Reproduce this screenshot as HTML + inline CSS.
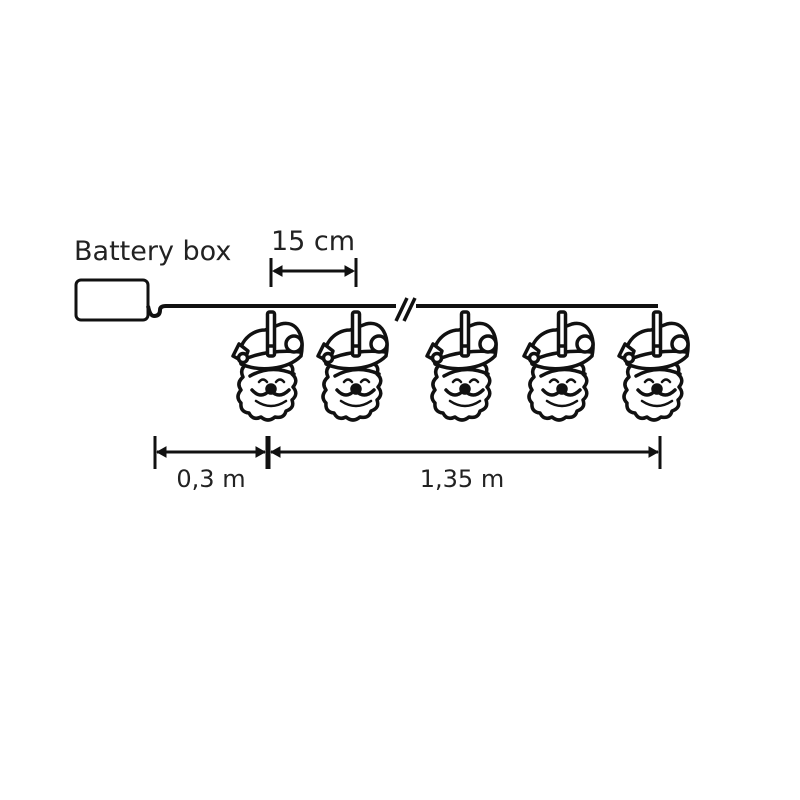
<!DOCTYPE html>
<html><head><style>
html,body{margin:0;padding:0;background:#fff;}
svg{display:block;}
text{font-family:"DejaVu Sans","Liberation Sans",sans-serif;fill:#222;}
</style></head><body>
<svg width="800" height="800" viewBox="0 0 800 800" xmlns="http://www.w3.org/2000/svg">
<defs>
<g id="santa" fill="#fff" stroke="#111" stroke-width="3.5" stroke-linejoin="round" stroke-linecap="round">
  <path d="M-24 58 q-8 5 -4 13 q-7 6 -2 13 q-6 7 0 13 q-1 9 8 10 q4 8 12 4 q7 6 14 0 q9 2 11 -6 q9 -3 6 -11 q7 -6 1 -13 q6 -7 -1 -13 q3 -9 -6 -11 Z"/>
  <path d="M-21 70 q21 -12 44 -2" fill="none"/>
  <path d="M-30 58 C-36 40 -22 24 -6 24 L10 18 C26 14 34 30 30 50 C16 64 -12 66 -30 58 Z"/>
  <path d="M-28 54 C-12 46 12 44 29 46" fill="none"/>
  <circle cx="23" cy="38" r="8"/>
  <path d="M-38 50 l6 -12 l9 7 l-4 11 Z"/>
  <circle cx="-28" cy="52" r="4.5"/>
  <path d="M-12 76 q4 -5 8 0 M5 76 q4 -5 8 0" fill="none" stroke-width="2.5"/>
  <circle cx="0" cy="83" r="4" fill="#111"/>
  <path d="M-19 84 q9 10 18 0 q9 10 19 0" fill="none"/>
  <path d="M-15 95 q15 10 30 0" fill="none" stroke-width="2.5"/>
  <rect x="-3.5" y="6" width="7" height="44" rx="2"/>
  <path d="M-3 40 h6" />
</g>
</defs>

<rect x="76" y="280" width="72" height="40" rx="5" fill="none" stroke="#111" stroke-width="3"/>
<path d="M148 306 q2 10 6 10 q6 0 6 -6 q0 -4 6 -4 L396 306" fill="none" stroke="#111" stroke-width="4"/>
<path d="M416 306 L658 306" fill="none" stroke="#111" stroke-width="4"/>
<path d="M396 321 L407 298 M404 321 L415 298" stroke="#111" stroke-width="3.5"/>

<use href="#santa" x="271" y="306"/>
<use href="#santa" x="356" y="306"/>
<use href="#santa" x="465" y="306"/>
<use href="#santa" x="562" y="306"/>
<use href="#santa" x="657" y="306"/>

<text x="74" y="260" font-size="27">Battery box</text>
<text x="313" y="250" font-size="27" text-anchor="middle">15 cm</text>
<g stroke="#111" stroke-width="3" fill="#111">
  <line x1="271" y1="258" x2="271" y2="287"/>
  <line x1="356" y1="258" x2="356" y2="287"/>
  <line x1="274" y1="271" x2="353" y2="271"/>
  <path d="M273 271 l9 -5 v10 Z M354 271 l-9 -5 v10 Z" stroke-width="1"/>
</g>

<g stroke="#111" stroke-width="3" fill="#111">
  <line x1="155" y1="436" x2="155" y2="469"/>
  <line x1="268" y1="436" x2="268" y2="469" stroke-width="5"/>
  <line x1="660" y1="436" x2="660" y2="469"/>
  <line x1="157" y1="452" x2="265" y2="452"/>
  <line x1="271" y1="452" x2="658" y2="452"/>
  <path d="M157 452 l9 -5 v10 Z M265 452 l-9 -5 v10 Z M271 452 l9 -5 v10 Z M658 452 l-9 -5 v10 Z" stroke-width="1"/>
</g>
<text x="211" y="487" font-size="24" text-anchor="middle">0,3 m</text>
<text x="462" y="487" font-size="24" text-anchor="middle">1,35 m</text>
</svg>
</body></html>
